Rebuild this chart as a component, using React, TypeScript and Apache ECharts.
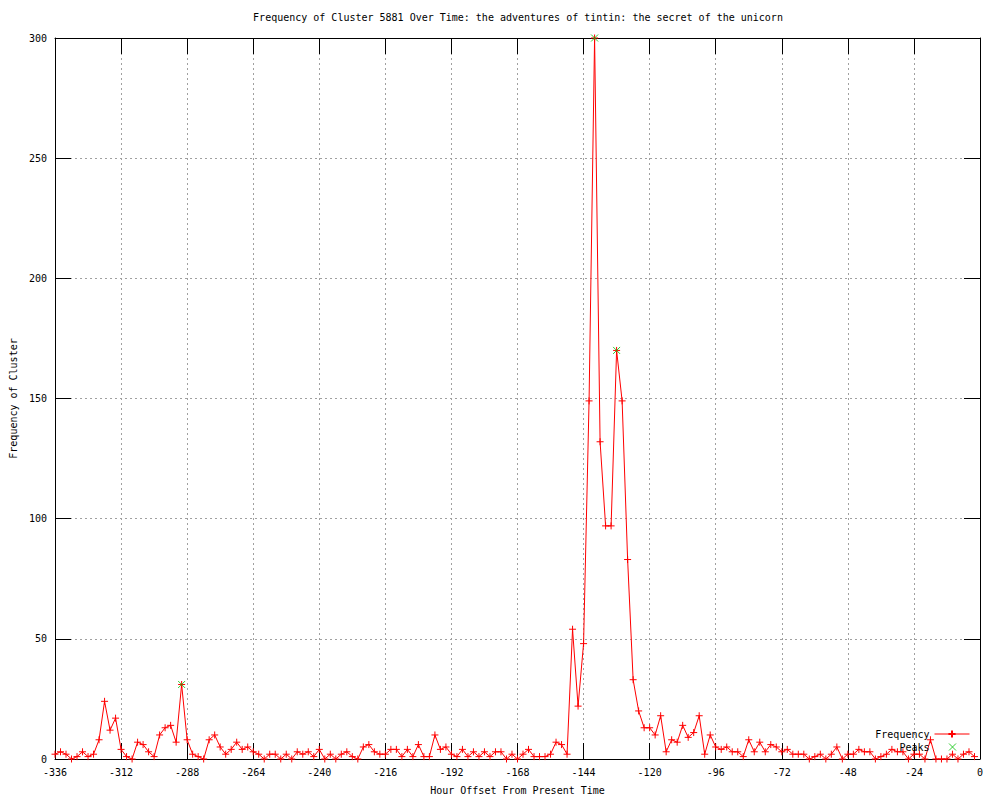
import React, { useEffect, useRef } from 'react';
import * as echarts from 'echarts';

const TITLE = 'Frequency of Cluster 5881 Over Time: the adventures of tintin: the secret of the unicorn';
const X_NAME = 'Hour Offset From Present Time';
const Y_NAME = 'Frequency of Cluster';
const SERIES_NAMES = ['Frequency', 'Peaks'];

const X_MIN = -336;
const X_MAX = 0;
const X_INTERVAL = 24;
const Y_MIN = 0;
const Y_MAX = 300;
const Y_INTERVAL = 50;

const HOURS = [
  -336, -334, -332, -330, -328, -326, -324, -322, -320, -318,
  -316, -314, -312, -310, -308, -306, -304, -302, -300, -298,
  -296, -294, -292, -290, -288, -286, -284, -282, -280, -278,
  -276, -274, -272, -270, -268, -266, -264, -262, -260, -258,
  -256, -254, -252, -250, -248, -246, -244, -242, -240, -238,
  -236, -234, -232, -230, -228, -226, -224, -222, -220, -218,
  -216, -214, -212, -210, -208, -206, -204, -202, -200, -198,
  -196, -194, -192, -190, -188, -186, -184, -182, -180, -178,
  -176, -174, -172, -170, -168, -166, -164, -162, -160, -158,
  -156, -154, -152, -150, -148, -146, -144, -142, -140, -138,
  -136, -134, -132, -130, -128, -126, -124, -122, -120, -118,
  -116, -114, -112, -110, -108, -106, -104, -102, -100, -98,
  -96, -94, -92, -90, -88, -86, -84, -82, -80, -78,
  -76, -74, -72, -70, -68, -66, -64, -62, -60, -58,
  -56, -54, -52, -50, -48, -46, -44, -42, -40, -38,
  -36, -34, -32, -30, -28, -26, -24, -22, -20, -18,
  -16, -14, -12, -10, -8, -6, -4, -2,
];

const FREQUENCY = [
  2, 3, 2, 0, 1, 3, 1, 2, 8, 24,
  12, 17, 4, 1, 0, 7, 6, 3, 1, 10,
  13, 14, 7, 31, 8, 2, 1, 0, 8, 10,
  5, 2, 4, 7, 4, 5, 3, 2, 0, 2,
  2, 0, 2, 0, 3, 2, 3, 1, 4, 0,
  2, 0, 2, 3, 1, 0, 5, 6, 3, 2,
  2, 4, 4, 1, 4, 1, 6, 1, 1, 10,
  4, 5, 2, 1, 4, 1, 3, 1, 3, 1,
  3, 3, 0, 2, 0, 2, 4, 1, 1, 1,
  2, 7, 6, 2, 54, 22, 48, 149, 300, 132,
  97, 97, 170, 149, 83, 33, 20, 13, 13, 10,
  18, 3, 8, 7, 14, 9, 11, 18, 2, 10,
  5, 4, 5, 3, 3, 1, 8, 3, 7, 3,
  6, 5, 3, 4, 2, 2, 2, 0, 1, 2,
  0, 2, 5, 0, 2, 2, 4, 3, 3, 0,
  1, 2, 4, 3, 3, 0, 2, 2, 0, 8,
  0, 0, 0, 2, 0, 2, 3, 1,
];

const PEAK_HOURS = [-290, -140, -132];
const PEAK_VALUES = [31, 300, 170];

const FONT = 'DejaVu Sans Mono';
const RED = '#ff0000';
const GREEN = '#00c000';
const PLUS = 'path://M0,3.5L7,3.5M3.5,0L3.5,7';
const CROSS = 'path://M0,0L7,7M7,0L0,7';
// legend icon for Peaks: an x centred in a 35x8 box (moveTo points set the box)
const CROSS_LEGEND = 'path://M0,0M35,8M14.5,0.5L21.5,7.5M21.5,0.5L14.5,7.5';

export default function App() {
  const ref = useRef<HTMLDivElement>(null);

  useEffect(() => {
    document.body.style.margin = '0';
    if (!ref.current) return;
    const chart = echarts.init(ref.current, null, { renderer: 'svg' });

    const freqData = HOURS.map((h, i) => [h, FREQUENCY[i]]);
    const peakData = PEAK_HOURS.map((h, i) => [h, PEAK_VALUES[i]]);

    const axisText = { fontFamily: FONT, fontSize: 10, color: '#000' };
    const gridLine = () => ({
      show: true,
      showMinLine: false,
      showMaxLine: false,
      lineStyle: { color: '#a0a0a0', type: [2, 3], width: 1 },
    });
    const tick = () => ({ show: true, inside: true, length: 16, lineStyle: { color: '#000', width: 1 } });
    const axLine = () => ({ show: true, onZero: false, lineStyle: { color: '#000', width: 1 } });

    chart.setOption({
      animation: false,
      backgroundColor: '#fff',
      title: {
        text: TITLE,
        left: 518,
        textAlign: 'center',
        top: 12,
        padding: 0,
        textStyle: { fontFamily: FONT, fontSize: 10, fontWeight: 'normal', color: '#000' },
      },
      grid: { left: 55, right: 20, top: 38, bottom: 40, containLabel: false },
      legend: [
        {
          data: [SERIES_NAMES[0]],
          right: 30,
          top: 729,
          padding: 0,
          align: 'right',
          itemWidth: 35,
          itemHeight: 9,
          lineStyle: { width: 1 },
          textStyle: { fontFamily: FONT, fontSize: 10, color: '#000' },
        },
        {
          data: [
            {
              name: SERIES_NAMES[1],
              icon: CROSS_LEGEND,
              itemStyle: { color: GREEN, borderColor: GREEN, borderWidth: 1 },
            },
          ],
          right: 30,
          top: 742,
          padding: 0,
          align: 'right',
          itemWidth: 35,
          itemHeight: 8,
          textStyle: { fontFamily: FONT, fontSize: 10, color: '#000' },
        },
      ],
      xAxis: [
        {
          type: 'value',
          min: X_MIN,
          max: X_MAX,
          interval: X_INTERVAL,
          position: 'bottom',
          name: X_NAME,
          nameLocation: 'middle',
          nameGap: 26,
          nameTextStyle: { fontFamily: FONT, fontSize: 10, color: '#000' },
          axisLine: axLine(),
          axisTick: tick(),
          axisLabel: { ...axisText, margin: 8 },
          splitLine: gridLine(),
        },
        {
          type: 'value',
          min: X_MIN,
          max: X_MAX,
          interval: X_INTERVAL,
          position: 'top',
          axisLine: axLine(),
          axisTick: tick(),
          axisLabel: { show: false },
          splitLine: { show: false },
        },
      ],
      yAxis: [
        {
          type: 'value',
          min: Y_MIN,
          max: Y_MAX,
          interval: Y_INTERVAL,
          position: 'left',
          name: Y_NAME,
          nameLocation: 'middle',
          nameGap: 36,
          nameTextStyle: { fontFamily: FONT, fontSize: 10, color: '#000' },
          axisLine: axLine(),
          axisTick: tick(),
          axisLabel: { ...axisText, margin: 8 },
          splitLine: gridLine(),
        },
        {
          type: 'value',
          min: Y_MIN,
          max: Y_MAX,
          interval: Y_INTERVAL,
          position: 'right',
          axisLine: axLine(),
          axisTick: tick(),
          axisLabel: { show: false },
          splitLine: { show: false },
        },
      ],
      series: [
        {
          name: SERIES_NAMES[0],
          type: 'line',
          data: freqData,
          xAxisIndex: 0,
          yAxisIndex: 0,
          showAllSymbol: true,
          symbol: PLUS,
          symbolSize: 7,
          clip: false,
          lineStyle: { color: RED, width: 1 },
          itemStyle: { color: RED, borderColor: RED, borderWidth: 1 },
          emphasis: { disabled: true },
          z: 2,
        },
        {
          name: SERIES_NAMES[1],
          type: 'scatter',
          data: peakData,
          xAxisIndex: 0,
          yAxisIndex: 0,
          symbol: CROSS,
          symbolSize: 7,
          symbolKeepAspect: true,
          itemStyle: { color: GREEN, borderColor: GREEN, borderWidth: 1 },
          emphasis: { disabled: true },
          z: 3,
        },
      ],
    });

    return () => chart.dispose();
  }, []);

  return (
    <div
      ref={ref}
      style={{ position: 'absolute', left: 0, top: 0, width: 1000, height: 800, background: '#fff' }}
    />
  );
}
